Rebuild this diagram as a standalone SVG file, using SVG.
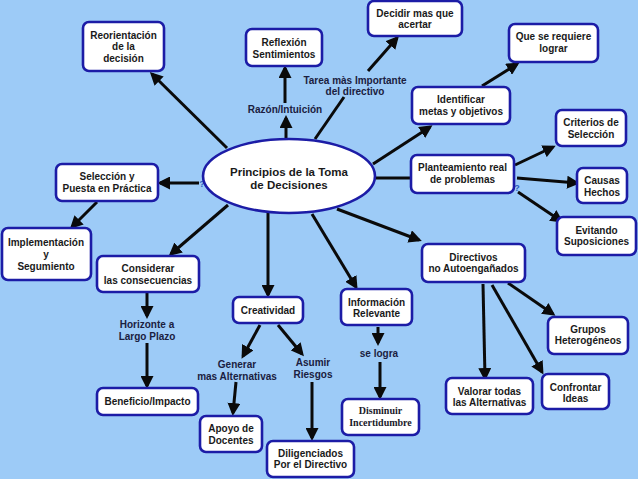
<svg xmlns="http://www.w3.org/2000/svg" width="638" height="479" viewBox="0 0 638 479">
<defs>
<marker id="ah" viewBox="0 0 13 13" markerWidth="13" markerHeight="13" refX="10" refY="6.5" orient="auto" markerUnits="userSpaceOnUse">
<path d="M0,0 L13,6.5 L0,13 z" fill="#0a0a0a"/>
</marker>
<style>
.n{fill:#ffffff;stroke:#1c1ca6;stroke-width:2.6}
.t{font-family:"Liberation Sans",Arial,sans-serif;font-weight:bold;font-size:10px;fill:#1a1a1a;text-anchor:middle}
.s{font-family:"Liberation Serif","Times New Roman",serif;font-weight:bold;font-size:10px;fill:#1a1a2a;text-anchor:middle}
.l{font-family:"Liberation Sans",Arial,sans-serif;font-weight:bold;font-size:10px;fill:#1a2040;text-anchor:middle}
.q{font-family:"Liberation Sans",Arial,sans-serif;font-weight:bold;font-size:9px;fill:#2c5cc0;text-anchor:middle}
.c line{stroke:#0a0a0a;stroke-width:3}
.c .a{marker-end:url(#ah)}
</style>
</defs>
<rect x="0" y="0" width="638" height="479" fill="#9dcbf7"/>

<g id="connectors" class="c">
<line class="a" x1="227" y1="148" x2="152" y2="74"/>
<line class="a" x1="286" y1="138" x2="286" y2="118"/>
<line class="a" x1="285" y1="103" x2="285" y2="68"/>
<line x1="315" y1="139" x2="344" y2="97"/>
<line class="a" x1="368" y1="71" x2="397" y2="38"/>
<line class="a" x1="373" y1="164" x2="430" y2="127"/>
<line class="a" x1="482" y1="86" x2="517" y2="64"/>
<line x1="376" y1="178" x2="411" y2="178"/>
<line class="a" x1="515" y1="165" x2="553" y2="147"/>
<line class="a" x1="517" y1="178" x2="577" y2="183"/>
<line class="a" x1="518" y1="192" x2="561" y2="221"/>
<line class="a" x1="337" y1="209" x2="419" y2="240"/>
<line class="a" x1="312" y1="214" x2="356" y2="287"/>
<line class="a" x1="268" y1="213" x2="268" y2="295"/>
<line class="a" x1="228" y1="205" x2="171" y2="254"/>
<line class="a" x1="199" y1="183" x2="160" y2="183"/>
<line class="a" x1="97" y1="202" x2="72" y2="227"/>
<line class="a" x1="147" y1="293" x2="147" y2="316"/>
<line class="a" x1="147" y1="343" x2="147" y2="386"/>
<line class="a" x1="260" y1="325" x2="243" y2="356"/>
<line class="a" x1="278" y1="325" x2="302" y2="354"/>
<line class="a" x1="236" y1="382" x2="233" y2="413"/>
<line class="a" x1="312" y1="382" x2="312" y2="438"/>
<line class="a" x1="378" y1="327" x2="378" y2="343"/>
<line class="a" x1="380" y1="362" x2="380" y2="397"/>
<line class="a" x1="508" y1="283" x2="553" y2="314"/>
<line class="a" x1="492" y1="285" x2="542" y2="372"/>
<line class="a" x1="483" y1="284" x2="485" y2="378"/>
</g>

<g id="labels">
<text class="l" x="285" y="113">Razón/Intuición</text>
<text class="l" x="355" y="83.5">Tarea màs Importante</text>
<text class="l" x="355" y="95">del directivo</text>
<text class="l" x="147" y="327.5">Horizonte a</text>
<text class="l" x="147" y="339.5">Largo Plazo</text>
<text class="l" x="237" y="367.5">Generar</text>
<text class="l" x="237" y="379.5">mas Alternativas</text>
<text class="l" x="313" y="365.5">Asumir</text>
<text class="l" x="313" y="377.5">Riesgos</text>
<text class="l" x="379" y="356.5">se logra</text>
<text class="q" x="202" y="187">?</text>
<text class="q" x="517" y="191">?</text>
</g>

<g id="center">
<ellipse cx="289" cy="176" rx="86" ry="37" class="n"/>
<text class="t" style="font-size:11.5px" x="289" y="176">Principios de la Toma</text>
<text class="t" style="font-size:11.5px" x="289" y="189">de Decisiones</text>
</g>

<g id="reorientacion"><rect class="n" x="83" y="22" width="81" height="49" rx="6"/>
<text class="t" x="123.5" y="38.5">Reorientación</text><text class="t" x="123.5" y="50">de la</text><text class="t" x="123.5" y="62">decisión</text></g>

<g id="reflexion"><rect class="n" x="246" y="29" width="76" height="37" rx="6"/>
<text class="t" x="284" y="46">Reflexión</text><text class="t" x="284" y="58">Sentimientos</text></g>

<g id="decidir"><rect class="n" x="368" y="1" width="94" height="35" rx="6"/>
<text class="t" x="415" y="17">Decidir mas que</text><text class="t" x="415" y="28">acertar</text></g>

<g id="quesereq"><rect class="n" x="509" y="24" width="89" height="38" rx="6"/>
<text class="t" x="553.5" y="39.5">Que se requiere</text><text class="t" x="553.5" y="51.5">lograr</text></g>

<g id="identificar"><rect class="n" x="412" y="87" width="98" height="37" rx="6"/>
<text class="t" x="461" y="102.5">Identificar</text><text class="t" x="461" y="114.5">metas y objetivos</text></g>

<g id="criterios"><rect class="n" x="556" y="110" width="70" height="36" rx="6"/>
<text class="t" x="591" y="125.5">Criterios de</text><text class="t" x="591" y="137.5">Selección</text></g>

<g id="planteamiento"><rect class="n" x="411" y="155" width="103" height="38" rx="6"/>
<text class="t" x="462.5" y="170.5">Planteamiento real</text><text class="t" x="462.5" y="182.5">de problemas</text></g>

<g id="causas"><rect class="n" x="577" y="168" width="50" height="35" rx="6"/>
<text class="t" x="602" y="184">Causas</text><text class="t" x="602" y="195.5">Hechos</text></g>

<g id="evitando"><rect class="n" x="557" y="217" width="79" height="38" rx="6"/>
<text class="t" x="596.5" y="233.5">Evitando</text><text class="t" x="596.5" y="245">Suposiciones</text></g>

<g id="directivos"><rect class="n" x="422" y="244" width="103" height="38" rx="6"/>
<text class="t" x="473.5" y="260.5">Directivos</text><text class="t" x="473.5" y="272">no Autoengañados</text></g>

<g id="grupos"><rect class="n" x="548" y="317" width="80" height="37" rx="6"/>
<text class="t" x="588" y="332.5">Grupos</text><text class="t" x="588" y="344">Heterogéneos</text></g>

<g id="confrontar"><rect class="n" x="542" y="374" width="67" height="35" rx="6"/>
<text class="t" x="575.5" y="390.5">Confrontar</text><text class="t" x="575.5" y="401.5">Ideas</text></g>

<g id="valorar"><rect class="n" x="446" y="378" width="87" height="36" rx="6"/>
<text class="t" x="489.5" y="394.5">Valorar todas</text><text class="t" x="489.5" y="405.5">las Alternativas</text></g>

<g id="informacion"><rect class="n" x="341" y="289" width="71" height="36" rx="6"/>
<text class="t" x="376.5" y="305.5">Información</text><text class="t" x="376.5" y="317">Relevante</text></g>

<g id="disminuir"><rect class="n" x="342" y="399" width="77" height="36" rx="6"/>
<text class="s" x="380.5" y="414">Disminuir</text><text class="s" x="380.5" y="426">Incertidumbre</text></g>

<g id="diligenciados"><rect class="n" x="267" y="441" width="87" height="36" rx="6"/>
<text class="t" x="310.5" y="456.5">Diligenciados</text><text class="t" x="310.5" y="468">Por el Directivo</text></g>

<g id="apoyo"><rect class="n" x="200" y="416" width="62" height="36" rx="6"/>
<text class="t" x="231" y="431.5">Apoyo de</text><text class="t" x="231" y="443.5">Docentes</text></g>

<g id="creatividad"><rect class="n" x="233" y="297" width="70" height="26" rx="6"/>
<text class="t" x="268" y="314">Creatividad</text></g>

<g id="beneficio"><rect class="n" x="97" y="388" width="101" height="27" rx="6"/>
<text class="t" x="147.5" y="404.5">Beneficio/Impacto</text></g>

<g id="considerar"><rect class="n" x="97" y="256" width="102" height="36" rx="6"/>
<text class="t" x="148" y="271.5">Considerar</text><text class="t" x="148" y="283.5">las consecuencias</text></g>

<g id="implementacion"><rect class="n" x="2" y="228" width="89" height="52" rx="6"/>
<text class="t" x="46" y="245.5">Implementación</text><text class="t" x="46" y="257.5">y</text><text class="t" x="46" y="269.5">Segumiento</text></g>

<g id="seleccion"><rect class="n" x="56" y="164" width="102" height="37" rx="6"/>
<text class="t" x="107" y="179.5">Selección y</text><text class="t" x="107" y="191.5">Puesta en Práctica</text></g>
</svg>
